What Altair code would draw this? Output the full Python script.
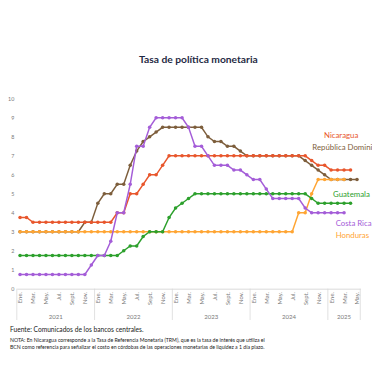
import altair as alt
import pandas as pd

# ---------------- data ----------------
month_names = ["Ene.", "Feb.", "Mar.", "Abr.", "May.", "Jun.", "Jul.", "Ago.", "Sept.", "Oct.", "Nov.", "Dic."]
years = [2021, 2022, 2023, 2024, 2025]
months_per_year = [12, 12, 12, 12, 5]

nicaragua = [
    3.75, 3.75, 3.5, 3.5, 3.5, 3.5, 3.5, 3.5, 3.5, 3.5, 3.5, 3.5,
    3.5, 3.5, 3.5, 4.0, 4.0, 5.0, 5.0, 5.5, 6.0, 6.0, 6.5, 7.0,
    7.0, 7.0, 7.0, 7.0, 7.0, 7.0, 7.0, 7.0, 7.0, 7.0, 7.0, 7.0,
    7.0, 7.0, 7.0, 7.0, 7.0, 7.0, 7.0, 7.0, 7.0, 6.75, 6.5, 6.5,
    6.25, 6.25, 6.25, 6.25, None,
]
rep_dominicana = [
    3.0, 3.0, 3.0, 3.0, 3.0, 3.0, 3.0, 3.0, 3.0, 3.0, 3.5, 3.5,
    4.5, 5.0, 5.0, 5.5, 5.5, 6.5, 7.25, 7.75, 8.0, 8.25, 8.5, 8.5,
    8.5, 8.5, 8.5, 8.5, 8.5, 8.0, 7.75, 7.75, 7.5, 7.5, 7.25, 7.0,
    7.0, 7.0, 7.0, 7.0, 7.0, 7.0, 7.0, 7.0, 6.75, 6.5, 6.25, 6.0,
    5.75, 5.75, 5.75, 5.75, 5.75,
]
guatemala = [
    1.75, 1.75, 1.75, 1.75, 1.75, 1.75, 1.75, 1.75, 1.75, 1.75, 1.75, 1.75,
    1.75, 1.75, 1.75, 1.75, 2.0, 2.25, 2.25, 2.75, 3.0, 3.0, 3.0, 3.75,
    4.25, 4.5, 4.75, 5.0, 5.0, 5.0, 5.0, 5.0, 5.0, 5.0, 5.0, 5.0,
    5.0, 5.0, 5.0, 5.0, 5.0, 5.0, 5.0, 5.0, 5.0, 4.75, 4.5, 4.5,
    4.5, 4.5, 4.5, 4.5, None,
]
costa_rica = [
    0.75, 0.75, 0.75, 0.75, 0.75, 0.75, 0.75, 0.75, 0.75, 0.75, 0.75, 1.25,
    1.75, 1.75, 2.5, 4.0, 4.0, 5.5, 7.5, 7.5, 8.5, 9.0, 9.0, 9.0,
    9.0, 9.0, 8.5, 7.5, 7.5, 7.0, 6.5, 6.5, 6.5, 6.25, 6.25, 6.0,
    5.75, 5.75, 5.25, 4.75, 4.75, 4.75, 4.75, 4.75, 4.25, 4.0, 4.0, 4.0,
    4.0, 4.0, 4.0, None, None,
]
honduras = [
    3.0, 3.0, 3.0, 3.0, 3.0, 3.0, 3.0, 3.0, 3.0, 3.0, 3.0, 3.0,
    3.0, 3.0, 3.0, 3.0, 3.0, 3.0, 3.0, 3.0, 3.0, 3.0, 3.0, 3.0,
    3.0, 3.0, 3.0, 3.0, 3.0, 3.0, 3.0, 3.0, 3.0, 3.0, 3.0, 3.0,
    3.0, 3.0, 3.0, 3.0, 3.0, 3.0, 3.0, 4.0, 4.0, 5.0, 5.75, 5.75,
    5.75, 5.75, 5.75, None, None,
]

series_names = ["República Dominicana", "Nicaragua", "Honduras", "Guatemala", "Costa Rica"]
series_values = [rep_dominicana, nicaragua, honduras, guatemala, costa_rica]
series_colors = ["#7D5E3C", "#E8562C", "#FFA533", "#2CA02C", "#A45DD8"]

y_ticks = [0, 1, 2, 3, 4, 5, 6, 7, 8, 9, 10]

title_text = "Tasa de política monetaria"
source_text = "Fuente: Comunicados de los bancos centrales."
note_lines = [
    "NOTA: En Nicaragua corresponde a la Tasa de Referencia Monetaria (TRM), que es la tasa de interés que utiliza el",
    "BCN como referencia para señalizar el costo en córdobas de las operaciones monetarias de liquidez a 1 día plazo.",
]

# label anchors (month index, rate) for the series names
label_anchor_x = [45.1, 46.9, 48.7, 48.3, 48.7]
label_anchor_y = [7.42, 8.05, 2.75, 4.95, 3.4]

# ---------------- tables ----------------
periods = []
for y, n in zip(years, months_per_year):
    for m in range(n):
        periods.append((y, m))
n_periods = len(periods)

rows = []
for name, vals in zip(series_names, series_values):
    for i, v in enumerate(vals):
        if v is not None:
            rows.append({"idx": i, "year": periods[i][0], "mes": month_names[periods[i][1]],
                         "serie": name, "tasa": v})
df = pd.DataFrame(rows)

df_period = pd.DataFrame({"idx": list(range(n_periods)), "year": [p[0] for p in periods]})
df_years = df_period.groupby("year", as_index=False)["idx"].mean()
df_years["label"] = df_years["year"].astype(str)
starts = df_period.groupby("year")["idx"].min().tolist()
df_sep = pd.DataFrame({"b": [s - 0.5 for s in starts] + [n_periods - 0.5]})

df_lab = pd.DataFrame({"serie": series_names, "x": label_anchor_x, "y": label_anchor_y})

# ---------------- encodings ----------------
W, H = 351, 194
FONT = "Lato"
names_js = "[" + ",".join("'" + m + "'" for m in month_names) + "]"
x_scale = alt.Scale(domain=[-0.5, n_periods - 0.5], nice=False, zero=False)
y_scale = alt.Scale(domain=[0, 10], nice=False)

x_axis = alt.Axis(
    values=list(range(0, n_periods, 2)),
    labelExpr=names_js + "[datum.value % 12]",
    labelAngle=270, ticks=False, grid=False, domainColor="#d0d0d0", domainWidth=0.8,
    labelFontSize=6, labelColor="#7a7a7a", labelFont=FONT, labelPadding=3,
    labelOverlap=False, labelBound=False, title=None,
)
y_axis = alt.Axis(
    values=y_ticks, format="d", ticks=False, grid=False, domain=False,
    labelFontSize=5.5, labelColor="#7a7a7a", labelFont=FONT, labelPadding=3,
    labelOverlap=False, title=None,
)


def X(field):
    return alt.X(field, type="quantitative", scale=x_scale, axis=x_axis)


def Y(field):
    return alt.Y(field, type="quantitative", scale=y_scale, axis=y_axis)


layers = []
for name, color in zip(series_names, series_colors):
    base = alt.Chart(df).transform_filter(alt.datum.serie == name)
    layers.append(base.mark_line(strokeWidth=1.5, color=color).encode(x=X("idx"), y=Y("tasa")))
    layers.append(base.mark_circle(size=13, opacity=1, color=color).encode(x=X("idx"), y=Y("tasa")))

labels = alt.Chart(df_lab).mark_text(align="left", baseline="middle", fontSize=8, font=FONT).encode(
    x=X("x"), y=Y("y"), text="serie:N",
    color=alt.Color("serie:N", scale=alt.Scale(domain=series_names, range=series_colors), legend=None),
)

seps = alt.Chart(df_sep).mark_rule(color="#d8d8d8", strokeWidth=0.8).encode(
    x=X("b"), y=alt.value(H), y2=alt.value(H + 32)
)
year_text = alt.Chart(df_years).mark_text(fontSize=6.2, color="#7a7a7a", font=FONT, baseline="middle").encode(
    x=X("idx"), y=alt.value(H + 29), text="label:N"
)

title = alt.Chart(pd.DataFrame({"t": [title_text]})).mark_text(
    fontSize=10.5, fontWeight="bold", color="#1F2A44", font=FONT, baseline="middle"
).encode(x=alt.value(185.5), y=alt.value(-40), text="t:N")

source = alt.Chart(pd.DataFrame({"t": [source_text]})).mark_text(
    fontSize=6.8, color="#222222", font=FONT, align="left", baseline="middle"
).encode(x=alt.value(-7), y=alt.value(H + 42), text="t:N")

note1 = alt.Chart(pd.DataFrame({"t": [note_lines[0]]})).mark_text(
    fontSize=5.3, color="#222222", font=FONT, align="left", baseline="middle"
).encode(x=alt.value(-7), y=alt.value(H + 52), text="t:N")
note2 = alt.Chart(pd.DataFrame({"t": [note_lines[1]]})).mark_text(
    fontSize=5.3, color="#222222", font=FONT, align="left", baseline="middle"
).encode(x=alt.value(-7), y=alt.value(H + 60), text="t:N")

chart = alt.layer(*layers, labels, seps, year_text, title, source, note1, note2).properties(
    width=W, height=H,
    autosize=alt.AutoSizeParams(type="none"),
    padding={"left": 9, "top": 89, "right": 12, "bottom": 69},
    background="white",
).configure_view(stroke=None)

chart.save("out.html", embed_options={"renderer": "svg", "actions": False})
